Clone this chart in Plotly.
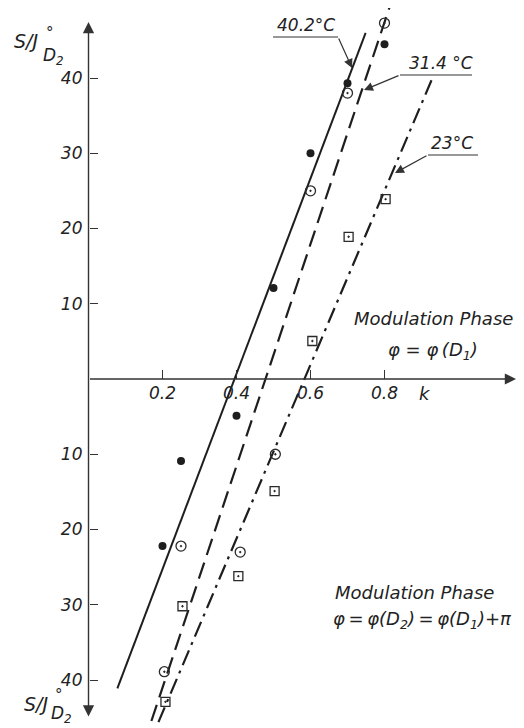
import plotly.graph_objects as go

# ---------------- data ----------------
k_402 = [0.80, 0.70, 0.60, 0.50, 0.40, 0.25, 0.20]
s_402 = [44.5, 39.3, 30.0, 12.1, -4.9, -10.9, -22.2]

k_314 = [0.80, 0.70, 0.60, 0.505, 0.41, 0.25, 0.205]
s_314 = [47.3, 38.0, 25.0, -10.0, -23.0, -22.2, -38.9]

k_23 = [0.803, 0.703, 0.605, 0.503, 0.405, 0.254, 0.208]
s_23 = [23.9, 18.9, 5.05, -14.9, -26.2, -30.2, -42.9]

# fitted straight lines (end points)
fit_k_402 = [0.078, 0.749]
fit_s_402 = [-41.1, 46.0]
fit_k_314 = [0.170, 0.8135]
fit_s_314 = [-45.45, 49.4]
fit_k_23 = [0.189, 0.927]
fit_s_23 = [-45.6, 39.7]

k_ticks = [0.2, 0.4, 0.6, 0.8]
k_ticklabels = ["0.2", "0.4", "0.6", "0.8"]
s_ticks = [40, 30, 20, 10, -10, -20, -30, -40]
s_ticklabels = ["40", "30", "20", "10", "10", "20", "30", "40"]

temp_labels = ["40.2\u00b0C", "31.4 \u00b0C", "23\u00b0C"]

# ---------------- geometry ----------------
W, H = 524, 728
OFF = 8                        # page body margin of the html page
FW, FH = W - OFF, H - OFF
X0PX, Y0PX = 88.5, 379.0       # pixel position of origin in the window
KPX, SPX = 370.0, 7.525        # pixels per unit

xr = [-(X0PX - OFF) / KPX, (W - X0PX) / KPX]
yr = [-(H - Y0PX) / SPX, (Y0PX - OFF) / SPX]


def PX(x):
    return (x - OFF) / FW


def PY(y):
    return 1 - (y - OFF) / FH


INK = "#1e1e1e"
FONT = "DejaVu Sans"
TS = "\u2009"  # thin space

fig = go.Figure()

# lines
fig.add_trace(go.Scatter(x=fit_k_402, y=fit_s_402, mode="lines",
                         line=dict(color=INK, width=2)))
fig.add_trace(go.Scatter(x=fit_k_314, y=fit_s_314, mode="lines",
                         line=dict(color=INK, width=2.2, dash="17px,8px")))
fig.add_trace(go.Scatter(x=fit_k_23, y=fit_s_23, mode="lines",
                         line=dict(color=INK, width=2.2, dash="16px,6px,3px,6px")))

# markers
fig.add_trace(go.Scatter(x=k_402, y=s_402, mode="markers",
                         marker=dict(symbol="circle", size=8, color=INK)))
fig.add_trace(go.Scatter(x=k_314, y=s_314, mode="markers",
                         marker=dict(symbol="circle-open-dot", size=10, color="#2a2a2a",
                                     line=dict(width=1.3, color="#2a2a2a"))))
fig.add_trace(go.Scatter(x=k_23, y=s_23, mode="markers",
                         marker=dict(symbol="square-open-dot", size=9, color="#2a2a2a",
                                     line=dict(width=1.3, color="#2a2a2a"))))

ann = []
shapes = []


def text_ann(x, y, text, font, xanchor="center", yanchor="middle"):
    ann.append(dict(xref="paper", yref="paper", x=PX(x), y=PY(y), text=text,
                    xanchor=xanchor, yanchor=yanchor, showarrow=False, font=font))


def arrow_ann(tail, tip, **kw):
    d = dict(xref="paper", yref="paper", x=PX(tip[0]), y=PY(tip[1]), text="",
             showarrow=True, axref="pixel", ayref="pixel",
             ax=tail[0] - tip[0], ay=tail[1] - tip[1], arrowcolor="#333")
    d.update(kw)
    ann.append(d)


# axes with arrows
arrow_ann((X0PX, Y0PX), (516, Y0PX), arrowhead=2, arrowsize=1.6, arrowwidth=1.4)
arrow_ann((X0PX, 718), (X0PX, 22), arrowhead=2, startarrowhead=2, arrowside="end+start",
          arrowsize=1.6, startarrowsize=1.6, arrowwidth=1.4)

tfont = dict(family=FONT, size=18, color="#222", style="italic")

# axis titles
text_ann(425, 393, "k", tfont)
for (sx, sy, dx, dy, ox, oy) in [(12, 41, 41, 57, 50, 33), (22, 704, 49, 714, 59, 695)]:
    text_ann(sx, sy, "S/J", dict(family=FONT, size=19, color="#222", style="italic"),
             xanchor="left")
    text_ann(dx, dy, "D<sub>2</sub>", dict(family=FONT, size=17, color="#222", style="italic"),
             xanchor="left")
    text_ann(ox, oy, "\u00b0", dict(family=FONT, size=15, color="#222"))

# temperature labels with leader lines
labels_pos = [
    # text centre, underline (x0,x1,y), arrow tail, arrow tip
    ((306, 25), (273, 338, 37), (338, 37), (352, 68)),
    ((441, 63), (400, 472, 75), (400, 75), (364, 90)),
    ((452, 143), (428, 478, 155), (428, 155), (395, 173)),
]
for lab, (tc, ul, tail, tip) in zip(temp_labels, labels_pos):
    text_ann(tc[0], tc[1], lab, dict(family=FONT, size=17, color="#222", style="italic"))
    shapes.append(dict(type="line", xref="paper", yref="paper",
                       x0=PX(ul[0]), x1=PX(ul[1]), y0=PY(ul[2]), y1=PY(ul[2]),
                       line=dict(color="#333", width=1.2)))
    arrow_ann(tail, tip, arrowhead=2, arrowsize=1.5, arrowwidth=1.2)

# modulation phase texts
mfont = dict(family=FONT, size=18, color="#222", style="italic")
text_ann(352, 318, "Modulation Phase", mfont, xanchor="left")
text_ann(433, 351, "\u03c6 = \u03c6" + TS + "(D<sub>1</sub>)", mfont)
text_ann(333, 592, "Modulation Phase", mfont, xanchor="left")
text_ann(331, 620,
         "\u03c6" + TS + "=" + TS + "\u03c6(D<sub>2</sub>)" + TS + "=" + TS
         + "\u03c6(D<sub>1</sub>)+\u03c0",
         mfont, xanchor="left")

fig.update_layout(
    width=FW, height=FH,
    margin=dict(l=0, r=0, t=0, b=0),
    paper_bgcolor="white", plot_bgcolor="white",
    showlegend=False, hovermode=False,
    annotations=ann, shapes=shapes,
    xaxis=dict(range=xr, domain=[0, 1], anchor="free", position=PY(Y0PX),
               showgrid=False, zeroline=False, showline=False,
               tickmode="array", tickvals=k_ticks, ticktext=k_ticklabels,
               ticks="inside", ticklen=9, tickwidth=1.3, tickcolor="#333",
               ticklabelstandoff=2,
               tickfont=dict(family=FONT, size=17, color="#222", style="italic")),
    yaxis=dict(range=yr, domain=[0, 1], anchor="free", position=PX(X0PX),
               showgrid=False, zeroline=False, showline=False,
               tickmode="array", tickvals=s_ticks, ticktext=s_ticklabels,
               ticks="inside", ticklen=8, tickwidth=1.3, tickcolor="#333",
               ticklabelstandoff=6,
               tickfont=dict(family=FONT, size=17, color="#222", style="italic")),
)

fig.write_html("out.html")
